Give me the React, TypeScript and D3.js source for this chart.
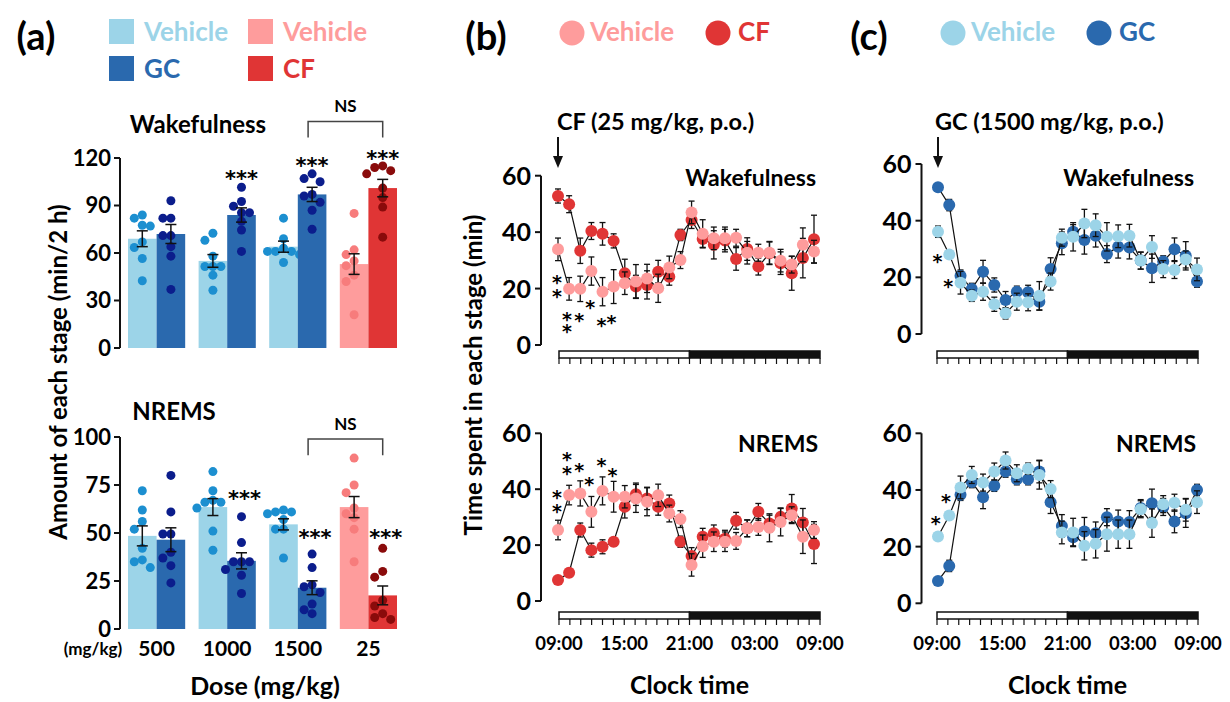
import React from "react";
import * as d3 from "d3";

const FONT = "Lato, 'Open Sans', sans-serif";
const STAR_FONT = "'DejaVu Sans', sans-serif";

// ---------- panel (a): dose response, 2 h totals ----------
const doses = ["500", "1000", "1500", "25"];
const cfDose = "25";

const wakeVehMean = [69, 55, 64, 53];
const wakeVehSem = [5, 4, 3.5, 6.5];
const wakeDrugMean = [72, 84, 97, 101];
const wakeDrugSem = [6, 4.5, 4.5, 5.5];
const wakeVehDots = [
  [84, 82, 77.5, 77, 67, 63.5, 56.5, 42.5],
  [72.5, 68, 58, 51.5, 51.5, 51.5, 46, 36.5],
  [82, 69, 63, 61, 61, 61, 59, 54],
  [85, 62, 59, 55, 52, 46, 42, 21],
];
const wakeDrugDots = [
  [93, 82, 82, 71, 71, 64, 58, 37],
  [101.5, 92.5, 89.5, 85.5, 85.5, 80, 74.5, 61],
  [110, 107, 105, 97, 96, 92, 87, 75],
  [115, 114, 112, 110, 101, 95, 89, 70],
];
const wakeStarVals = [null, 110.5, 118.5, 123];

const nremVehMean = [48.5, 63.5, 54.5, 63.5];
const nremVehSem = [5.2, 4.4, 2.9, 5.5];
const nremDrugMean = [46.5, 35.5, 21.5, 17.5];
const nremDrugSem = [6.2, 4.2, 3.6, 4.9];
const nremVehDots = [
  [72, 62, 56, 52, 42, 36, 35, 32],
  [82, 72, 67, 66, 66, 63, 51, 41],
  [62, 61, 61, 60, 57, 52, 52, 37],
  [89, 75, 71, 63, 60, 58, 52, 35],
];
const nremDrugDots = [
  [80, 61, 49.5, 49.5, 40, 37, 33, 24],
  [58.5, 45, 35, 35, 35, 31, 28, 18.5],
  [39, 32, 23, 22, 19, 13, 10, 8],
  [42, 30, 27, 15, 12, 8, 6, 5],
];
const nremStarVals = [null, 71, 50.5, 50.5];

// ---------- panels (b) and (c): 24 h time course ----------
const clockLabels = ["09:00", "15:00", "21:00", "03:00", "09:00"];

const cfWakeVeh = [33.9, 19.9, 19.9, 26.2, 18.9, 20.7, 21.9, 22.5, 23.6, 20.1, 27.5, 30.1, 47, 39.4, 37.8, 37.8, 38, 32.7, 32.7, 32.7, 29.9, 28.5, 35.5, 33.1];
const cfWakeVehSem = [4, 4, 4.5, 5, 5, 6, 4, 6, 5, 5, 4, 3, 4, 5, 4, 4, 3, 4, 3, 4, 4, 3, 6, 4];
const cfWakeDrug = [52.8, 49.9, 33.4, 40.4, 39.4, 36.9, 25.4, 20.7, 21.3, 26, 24.2, 39, 44.3, 37.6, 35.5, 37, 30.5, 34, 27.8, 32.5, 29, 25.4, 30.8, 37.5];
const cfWakeDrugSem = [2.5, 3, 4.5, 3, 4, 2.5, 5, 4, 5, 4, 3, 2, 3, 3, 5, 4, 4, 4, 3, 4, 4, 6, 7, 8.5];
const cfNremVeh = [25.4, 37.9, 38.5, 31.9, 39.4, 37.3, 37.3, 36.7, 35.5, 37.8, 31.3, 29.3, 12.9, 19.6, 21.2, 21.2, 21.5, 26, 26.5, 26.2, 28.3, 30.7, 23, 25.4];
const cfNremVehSem = [3.5, 3.5, 4.5, 5.5, 5, 5.5, 4, 5, 5, 4, 3, 3, 4, 4, 3.5, 3.5, 3, 3, 3, 5, 5, 3, 6, 3];
const cfNremDrug = [7.5, 10.1, 25.4, 18.2, 19.4, 21.2, 33.7, 38.2, 36.7, 33.7, 34.9, 21.2, 16.1, 23, 24.2, 22.3, 28.7, 26, 31.9, 27.7, 30.1, 33.1, 28.1, 20.4];
const cfNremDrugSem = [1.5, 1.5, 2.5, 2.5, 2.5, 1.5, 4, 4, 4, 3, 3, 2, 3, 3, 3, 3, 3, 3, 3, 3, 3, 5, 5, 7];

const gcWakeVeh = [36.1, 28.1, 18.1, 13.5, 14.9, 10.5, 7.3, 11.4, 11.2, 13.5, 18.5, 34, 34.3, 39, 38.4, 34.3, 34.5, 34.7, 25.9, 30.7, 22.9, 22.6, 26.3, 22.8];
const gcWakeVehSem = [2, 1, 4, 2, 3, 2.5, 2, 3, 3, 5, 3, 3, 5, 5, 4, 5, 4, 4, 3, 4, 3, 3, 3, 4];
const gcWakeDrug = [51.8, 45.5, 20.6, 15.9, 22, 17.3, 12, 14.9, 14.7, 11.4, 22.9, 32, 36.1, 33.2, 34.7, 28.2, 30.8, 30.5, 25.9, 23.2, 25.6, 29.9, 27.6, 18.5];
const gcWakeDrugSem = [1, 2, 2, 2, 4, 2.5, 3, 2, 2.5, 3, 4, 4, 2.5, 5, 4, 3, 4, 4, 3, 5, 2, 4, 5, 2];
const gcNremVeh = [23.6, 31, 40.9, 45.3, 42.6, 46.5, 50.4, 45.9, 47.5, 45.3, 40.3, 25, 25, 20.3, 21, 24.4, 24.4, 24.4, 33.2, 28.3, 35, 35.5, 33, 35.7];
const gcNremVehSem = [1, 1, 4, 3, 3, 3, 3, 3, 2, 5, 3, 4, 5, 5, 5, 6, 5, 5, 3, 5, 3, 3, 4, 4];
const gcNremDrug = [7.9, 13.2, 38.3, 42.8, 37.4, 41.5, 46.5, 43.8, 43.8, 46.5, 35.7, 27.3, 23.3, 25.3, 24.7, 30.4, 28.9, 28.7, 33.6, 35.3, 34, 28.9, 31.8, 40];
const gcNremDrugSem = [0.5, 2, 2, 2, 4, 2, 2, 2, 2, 4, 4, 4, 3, 5, 4, 3, 4, 4, 3, 5, 3, 4, 5, 2];

// significance marks: hour index and height (min)
const cfWakeStarIdx = [-0.1, -0.1, 0.8, 0.8, 1.9, 2.9, 3.9, 4.8];
const cfWakeStarVal = [23.8, 18.8, 10.6, 6.4, 10.3, 15.2, 8.6, 9.6];
const cfNremStarIdx = [-0.1, -0.1, 0.8, 0.8, 1.9, 2.8, 3.9, 4.9];
const cfNremStarVal = [38.7, 33.7, 52.5, 47.4, 48.6, 43.6, 50.1, 46.5];
const gcWakeStarIdx = [-0.05, 0.9];
const gcWakeStarVal = [27.3, 18.5];
const gcNremStarIdx = [-0.2, 0.7];
const gcNremStarVal = [30, 37.7];

const C = {
  lblue: "#9cd4e8",
  dblue: "#2a69ae",
  pink: "#fe9c9c",
  red: "#e03535",
  lblueDot: "#1c8fd0",
  dblueDot: "#0b1d8c",
  pinkDot: "#f77c7c",
  redDot: "#8a0b0b",
};

function jitter(vals: number[], y: d3.ScaleLinear<number, number>) {
  const placed: { py: number; dx: number }[] = [];
  const steps = [0, -8, 8, -16, 16];
  return vals.map((v) => {
    const py = y(v);
    const near = placed.filter((p) => Math.abs(p.py - py) < 8);
    const dx = steps.find((s) => !near.some((p) => p.dx === s)) ?? 0;
    placed.push({ py, dx });
    return { py, dx };
  });
}

function BarBlock(props: {
  y: d3.ScaleLinear<number, number>;
  ticks: number[];
  vehMean: number[];
  vehSem: number[];
  drugMean: number[];
  drugSem: number[];
  vehDots: number[][];
  drugDots: number[][];
  starVals: (number | null)[];
  starDx: number;
  title: string;
  titleX: number;
  titleY: number;
  ns: [number, number, number];
}) {
  const { y } = props;
  const x = d3.scaleBand().domain(doses).range([128, 397]).paddingInner(0.19);
  const bw = x.bandwidth() / 2;
  const axisX = 120;
  const [y0, y1] = y.range();
  const bar = (d: string, i: number, k: number) => {
    const isCf = d === cfDose;
    const mean = k === 0 ? props.vehMean[i] : props.drugMean[i];
    const sem = k === 0 ? props.vehSem[i] : props.drugSem[i];
    const dots = k === 0 ? props.vehDots[i] : props.drugDots[i];
    const fill = isCf ? (k === 0 ? C.pink : C.red) : k === 0 ? C.lblue : C.dblue;
    const dotFill = isCf ? (k === 0 ? C.pinkDot : C.redDot) : k === 0 ? C.lblueDot : C.dblueDot;
    const bx = (x(d) as number) + k * bw;
    const cx = bx + bw / 2;
    const pts = jitter(dots, y);
    return (
      <g key={d + k}>
        <rect x={bx} y={y(mean)} width={bw} height={y(0) - y(mean)} fill={fill} />
        {pts.map((p, j) => (
          <circle key={j} cx={cx + p.dx} cy={p.py} r={4.5} fill={dotFill} />
        ))}
        <g stroke="#111" strokeWidth={1.5}>
          <line x1={cx} x2={cx} y1={y(mean - sem)} y2={y(mean + sem)} />
          <line x1={cx - 5.5} x2={cx + 5.5} y1={y(mean - sem)} y2={y(mean - sem)} />
          <line x1={cx - 5.5} x2={cx + 5.5} y1={y(mean + sem)} y2={y(mean + sem)} />
        </g>
      </g>
    );
  };
  const gc1500 = (x("1500") as number) + bw * 1.5;
  const cf = (x("25") as number) + bw * 1.5;
  return (
    <g fontFamily={FONT} fontWeight={700}>
      <text x={props.titleX} y={props.titleY} fontSize={24} textAnchor="middle">{props.title}</text>
      {doses.map((d, i) => bar(d, i, 0))}
      {doses.map((d, i) => bar(d, i, 1))}
      <line x1={axisX} x2={axisX} y1={y0} y2={y1} stroke="#111" strokeWidth={2} />
      {props.ticks.map((t) => (
        <g key={t}>
          <line x1={axisX - 6} x2={axisX} y1={y(t)} y2={y(t)} stroke="#111" strokeWidth={2} />
          <text x={axisX - 9} y={y(t)} dy="0.35em" fontSize={22} textAnchor="end">{t}</text>
        </g>
      ))}
      {doses.map((d, i) =>
        props.starVals[i] == null ? null : (
          <text key={d} x={(x(d) as number) + bw * 1.5 + props.starDx} y={y(props.starVals[i] as number)} dy="0.62em"
            fontSize={21} fontFamily={STAR_FONT} textAnchor="middle">***</text>
        )
      )}
      <path d={`M${gc1500 - 4},${y(props.ns[1])}V${y(props.ns[0])}H${cf}V${y(props.ns[1])}`}
        fill="none" stroke="#444" strokeWidth={1.5} />
      <text x={(gc1500 + cf) / 2 - 2} y={y(props.ns[2])} dy="0.35em" fontSize={17} textAnchor="middle">NS</text>
    </g>
  );
}

function PanelA() {
  const yWake = d3.scaleLinear().domain([0, 120]).range([348, 158]);
  const yNrem = d3.scaleLinear().domain([0, 100]).range([629, 437]);
  const x = d3.scaleBand().domain(doses).range([128, 397]).paddingInner(0.19);
  return (
    <g fontFamily={FONT} fontWeight={700}>
      <text x={36} y={50} fontSize={38} textAnchor="middle">(a)</text>
      <rect x={109} y={19} width={25} height={25} fill={C.lblue} />
      <text x={144} y={41} fontSize={26} fill={C.lblue}>Vehicle</text>
      <rect x={248} y={19} width={25} height={25} fill={C.pink} />
      <text x={283} y={41} fontSize={26} fill={C.pink}>Vehicle</text>
      <rect x={109} y={56} width={25} height={25} fill={C.dblue} />
      <text x={144} y={78} fontSize={26} fill={C.dblue}>GC</text>
      <rect x={248} y={56} width={25} height={25} fill={C.red} />
      <text x={283} y={78} fontSize={26} fill={C.red}>CF</text>

      <BarBlock y={yWake} ticks={[0, 30, 60, 90, 120]} vehMean={wakeVehMean} vehSem={wakeVehSem}
        drugMean={wakeDrugMean} drugSem={wakeDrugSem} vehDots={wakeVehDots} drugDots={wakeDrugDots}
        starVals={wakeStarVals} starDx={0} title="Wakefulness" titleX={198} titleY={133} ns={[143, 133, 153]} />
      <BarBlock y={yNrem} ticks={[0, 25, 50, 75, 100]} vehMean={nremVehMean} vehSem={nremVehSem}
        drugMean={nremDrugMean} drugSem={nremDrugSem} vehDots={nremVehDots} drugDots={nremDrugDots}
        starVals={nremStarVals} starDx={3} title="NREMS" titleX={174} titleY={420} ns={[99, 90.5, 106.5]} />

      <text transform="translate(67,372) rotate(-90)" fontSize={24} textAnchor="middle">Amount of each stage (min/2 h)</text>
      <text x={93} y={655} fontSize={17} textAnchor="middle">(mg/kg)</text>
      {doses.map((d) => (
        <text key={d} x={(x(d) as number) + x.bandwidth() / 2} y={656} fontSize={21} textAnchor="middle">{d}</text>
      ))}
      <text x={265} y={695} fontSize={25} textAnchor="middle">Dose (mg/kg)</text>
    </g>
  );
}

type Series = { mean: number[]; sem: number[]; fill: string };

function TimeBlock(props: {
  y: d3.ScaleLinear<number, number>;
  axisX: number;
  ptRange: [number, number];
  barRange: [number, number];
  barY: number;
  series: Series[];
  label: string;
  labelX: number;
  labelY: number;
  labelSize: number;
  starIdx: number[];
  starVal: number[];
}) {
  const { y, axisX } = props;
  const xp = d3.scaleLinear().domain([0, 23]).range(props.ptRange);
  const xb = d3.scaleLinear().domain([0, 24]).range(props.barRange);
  const line = d3.line<number>().x((_, i) => xp(i)).y((d) => y(d));
  return (
    <g fontFamily={FONT} fontWeight={700}>
      <line x1={axisX} x2={axisX} y1={y(0)} y2={y(60)} stroke="#111" strokeWidth={2} />
      {[0, 20, 40, 60].map((t) => (
        <g key={t}>
          <line x1={axisX - 6} x2={axisX} y1={y(t)} y2={y(t)} stroke="#111" strokeWidth={2} />
          <text x={axisX - 10} y={y(t)} dy="0.36em" fontSize={25} textAnchor="end">{t}</text>
        </g>
      ))}
      <text x={props.labelX} y={props.labelY} fontSize={props.labelSize} textAnchor="end">{props.label}</text>
      {/* light / dark bar */}
      <rect x={xb(0)} y={props.barY} width={xb(12) - xb(0)} height={7} fill="#fff" stroke="#111" strokeWidth={1.5} />
      <rect x={xb(12)} y={props.barY} width={xb(24) - xb(12)} height={7} fill="#111" stroke="#111" strokeWidth={1.5} />
      {d3.range(25).map((h) => (
        <line key={h} x1={xb(h)} x2={xb(h)} y1={props.barY + 7} y2={props.barY + 13} stroke="#111" strokeWidth={1.2} />
      ))}
      {props.series.map((s, k) => (
        <g key={k}>
          <path d={line(s.mean) as string} fill="none" stroke="#111" strokeWidth={1.2} />
          <g stroke="#111" strokeWidth={1.3}>
            {s.mean.map((m, i) => (
              <g key={i}>
                <line x1={xp(i)} x2={xp(i)} y1={y(m - s.sem[i])} y2={y(m + s.sem[i])} />
                <line x1={xp(i) - 3} x2={xp(i) + 3} y1={y(m + s.sem[i])} y2={y(m + s.sem[i])} />
                <line x1={xp(i) - 3} x2={xp(i) + 3} y1={y(m - s.sem[i])} y2={y(m - s.sem[i])} />
              </g>
            ))}
          </g>
          {s.mean.map((m, i) => (
            <circle key={i} cx={xp(i)} cy={y(m)} r={6} fill={s.fill} />
          ))}
        </g>
      ))}
      {/* all significance marks of this block as one text run */}
      <text fontSize={19} fontFamily={STAR_FONT} textAnchor="middle">
        {props.starIdx.map((si, j) => (
          <tspan key={j} x={xp(si)} y={y(props.starVal[j])} dy="0.6em">*</tspan>
        ))}
      </text>
    </g>
  );
}

function TimePanel(props: {
  tag: string;
  tagX: number;
  vehColor: string;
  drugColor: string;
  drugName: string;
  legendX: number;
  dose: string;
  axisX: number;
  ptRange: [number, number];
  barRange: [number, number];
  yWake: d3.ScaleLinear<number, number>;
  yNrem: d3.ScaleLinear<number, number>;
  wake: Series[];
  nrem: Series[];
  wakeStars: [number[], number[]];
  nremStars: [number[], number[]];
  ylabel?: string;
}) {
  const [b0, b1] = props.barRange;
  const xb = d3.scaleLinear().domain([0, 24]).range(props.barRange);
  const lx = props.legendX;
  return (
    <g fontFamily={FONT} fontWeight={700}>
      <text x={props.tagX} y={50} fontSize={38} textAnchor="middle">{props.tag}</text>
      <circle cx={lx} cy={33} r={12.5} fill={props.vehColor} />
      <text x={lx + 18} y={41} fontSize={26} fill={props.vehColor}>Vehicle</text>
      <circle cx={lx + 146} cy={33} r={12.5} fill={props.drugColor} />
      <text x={lx + 166} y={41} fontSize={26} fill={props.drugColor}>{props.drugName}</text>

      <text x={b0 - 2} y={130} fontSize={23.5}>{props.dose}</text>
      <line x1={props.ptRange[0]} x2={props.ptRange[0]} y1={137} y2={158} stroke="#111" strokeWidth={2} />
      <path d={`M${props.ptRange[0] - 5},156L${props.ptRange[0] + 5},156L${props.ptRange[0]},168Z`} fill="#111" />

      <TimeBlock y={props.yWake} axisX={props.axisX} ptRange={props.ptRange} barRange={props.barRange} barY={351}
        series={props.wake} label="Wakefulness" labelX={b1 - 4} labelY={186} labelSize={23}
        starIdx={props.wakeStars[0]} starVal={props.wakeStars[1]} />
      <TimeBlock y={props.yNrem} axisX={props.axisX} ptRange={props.ptRange} barRange={props.barRange} barY={612}
        series={props.nrem} label="NREMS" labelX={b1 - 2} labelY={452} labelSize={23}
        starIdx={props.nremStars[0]} starVal={props.nremStars[1]} />

      {clockLabels.map((c, i) => (
        <text key={i} x={xb(i * 6)} y={650} fontSize={18.5} textAnchor="middle">{c}</text>
      ))}
      <text x={xb(12)} y={694} fontSize={25} textAnchor="middle">Clock time</text>
      {props.ylabel ? (
        <text transform={`translate(${props.axisX - 59},375) rotate(-90)`} fontSize={24} textAnchor="middle">{props.ylabel}</text>
      ) : null}
    </g>
  );
}

export default function App() {
  return (
    <svg width={1230} height={702} style={{ display: "block", position: "absolute", left: 0, top: 0, background: "#fff" }}>
      <PanelA />
      <TimePanel tag="(b)" tagX={486} vehColor={C.pink} drugColor={C.red} drugName="CF" legendX={572}
        dose="CF (25 mg/kg, p.o.)" axisX={541} ptRange={[558, 814]} barRange={[559, 820]}
        yWake={d3.scaleLinear().domain([0, 60]).range([345, 175.7])}
        yNrem={d3.scaleLinear().domain([0, 60]).range([601, 433.3])}
        wake={[
          { mean: cfWakeDrug, sem: cfWakeDrugSem, fill: C.red },
          { mean: cfWakeVeh, sem: cfWakeVehSem, fill: C.pink },
        ]}
        nrem={[
          { mean: cfNremDrug, sem: cfNremDrugSem, fill: C.red },
          { mean: cfNremVeh, sem: cfNremVehSem, fill: C.pink },
        ]}
        wakeStars={[cfWakeStarIdx, cfWakeStarVal]} nremStars={[cfNremStarIdx, cfNremStarVal]}
        ylabel="Time spent in each stage (min)" />
      <TimePanel tag="(c)" tagX={869} vehColor={C.lblue} drugColor={C.dblue} drugName="GC" legendX={953}
        dose="GC (1500 mg/kg, p.o.)" axisX={921.5} ptRange={[938, 1197]} barRange={[937, 1198]}
        yWake={d3.scaleLinear().domain([0, 60]).range([334, 164])}
        yNrem={d3.scaleLinear().domain([0, 60]).range([603.3, 433.3])}
        wake={[
          { mean: gcWakeDrug, sem: gcWakeDrugSem, fill: C.dblue },
          { mean: gcWakeVeh, sem: gcWakeVehSem, fill: C.lblue },
        ]}
        nrem={[
          { mean: gcNremDrug, sem: gcNremDrugSem, fill: C.dblue },
          { mean: gcNremVeh, sem: gcNremVehSem, fill: C.lblue },
        ]}
        wakeStars={[gcWakeStarIdx, gcWakeStarVal]} nremStars={[gcNremStarIdx, gcNremStarVal]} />
    </svg>
  );
}
